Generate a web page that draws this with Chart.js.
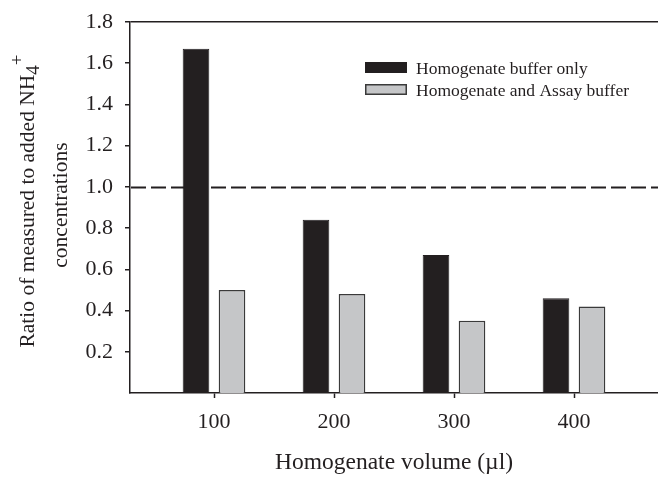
<!DOCTYPE html>
<html>
<head>
<meta charset="utf-8">
<script src="https://cdn.jsdelivr.net/npm/chart.js@4/dist/chart.umd.min.js"></script>
<style>
  html, body { margin: 0; padding: 0; background: #fff; }
  canvas { display: block; }
</style>
</head>
<body>
<canvas id="chart" width="658" height="477"></canvas>
<script>
// homogenate volumes (µl) and measured / added NH4+ ratios
const volumes = [100, 200, 300, 400]
const bufferOnly = [1.67, 0.84, 0.67, 0.46]
const withAssay = [0.50, 0.48, 0.35, 0.42]
const yTicks = [0.2, 0.4, 0.6, 0.8, 1.0, 1.2, 1.4, 1.6, 1.8]
const refLevel = 1.0

const ink = "#231f20"
const serif = "'Liberation Serif', 'Times New Roman', serif"

// dashed line at ratio 1, behind the bars
const refLine = {
  id: "refLine",
  beforeDatasetsDraw(chart) {
    const {ctx, chartArea, scales} = chart
    const y = Math.round(scales.y.getPixelForValue(refLevel)) + 0.5
    ctx.save()
    ctx.strokeStyle = ink
    ctx.lineWidth = 2
    ctx.setLineDash([15, 5])
    ctx.beginPath()
    ctx.moveTo(chartArea.left + 1, y)
    ctx.lineTo(chartArea.right, y)
    ctx.stroke()
    ctx.restore()
  }
}

// legend boxes in the upper right of the plot
const boxLegend = {
  id: "boxLegend",
  afterDraw(chart) {
    const {ctx} = chart
    ctx.save()
    chart.data.datasets.forEach((ds, i) => {
      const top = 62 + i * 22
      ctx.fillStyle = ds.backgroundColor
      ctx.fillRect(365, top, 42, 11)
      ctx.strokeStyle = ds.borderColor
      ctx.lineWidth = 1.5
      ctx.strokeRect(365.75, top + 0.75, 40.5, 9.5)
      ctx.fillStyle = ink
      ctx.font = "17.5px " + serif
      ctx.textBaseline = "alphabetic"
      ctx.fillText(ds.label, 416, top + 11.5)
    })
    ctx.restore()
  }
}

// rotated y title with NH4+ sub/superscript
const yTitle = {
  id: "yTitle",
  afterDraw(chart) {
    const {ctx} = chart
    const main = "Ratio of measured to added NH"
    ctx.save()
    ctx.fillStyle = ink
    ctx.textBaseline = "alphabetic"
    ctx.font = "21.5px " + serif
    const wMain = ctx.measureText(main).width
    ctx.font = "19px " + serif
    const wSub = ctx.measureText("4").width
    const wSup = ctx.measureText("+").width
    ctx.translate(34, 201)
    ctx.rotate(-Math.PI / 2)
    let u = -(wMain + wSub + wSup) / 2
    ctx.font = "21.5px " + serif
    ctx.fillText(main, u, 0)
    u += wMain
    ctx.font = "19px " + serif
    ctx.fillText("4", u, 5)
    u += wSub
    ctx.fillText("+", u, -11)
    ctx.restore()

    ctx.save()
    ctx.fillStyle = ink
    ctx.font = "21.5px " + serif
    ctx.textAlign = "center"
    ctx.translate(67, 205)
    ctx.rotate(-Math.PI / 2)
    ctx.fillText("concentrations", 0, 0)
    ctx.restore()
  }
}

new Chart(document.getElementById("chart").getContext("2d"), {
  type: "bar",
  data: {
    labels: volumes,
    datasets: [
      {
        label: "Homogenate buffer only",
        data: bufferOnly,
        backgroundColor: ink,
        borderColor: ink,
        borderWidth: 1
      },
      {
        label: "Homogenate and Assay buffer",
        data: withAssay,
        backgroundColor: "#c5c6c8",
        borderColor: "#3a3a3a",
        borderWidth: 1.5
      }
    ]
  },
  options: {
    responsive: false,
    animation: false,
    devicePixelRatio: 1,
    layout: {padding: {top: 22, left: 0, right: 0, bottom: 0}},
    categoryPercentage: 0.6,
    barPercentage: 0.74,
    plugins: {
      legend: {display: false},
      tooltip: {enabled: false}
    },
    scales: {
      x: {
        type: "linear",
        min: 30,
        max: 470,
        offset: false,
        afterBuildTicks: s => { s.ticks = volumes.map(v => ({value: v})) },
        afterFit: s => { s.height = 84; s.paddingLeft = 0; s.paddingRight = 0 },
        ticks: {
          color: ink,
          font: {family: serif, size: 22},
          padding: 11,
          maxRotation: 0,
          callback: v => String(v)
        },
        grid: {
          offset: false,
          drawOnChartArea: false,
          tickLength: 5,
          tickColor: ink,
          tickWidth: 1.5
        },
        border: {color: ink, width: 1.5},
        title: {
          display: true,
          text: "Homogenate volume (µl)",
          color: ink,
          font: {family: serif, size: 23.5, lineHeight: 1.2},
          padding: {top: 0, bottom: 0}
        }
      },
      y: {
        min: 0,
        max: 1.8,
        afterBuildTicks: s => { s.ticks = yTicks.map(v => ({value: v})) },
        afterFit: s => { s.width = 130; s.paddingTop = 0; s.paddingBottom = 0 },
        ticks: {
          color: ink,
          font: {family: serif, size: 22},
          padding: 12,
          callback: v => v.toFixed(1)
        },
        grid: {
          color: c => (c.tick && c.tick.value === 1.8 ? ink : "transparent"),
          lineWidth: 1.5,
          tickLength: 5,
          tickColor: ink,
          tickWidth: 1.5
        },
        border: {color: ink, width: 1.5}
      }
    }
  },
  plugins: [refLine, boxLegend, yTitle]
})
</script>
</body>
</html>
